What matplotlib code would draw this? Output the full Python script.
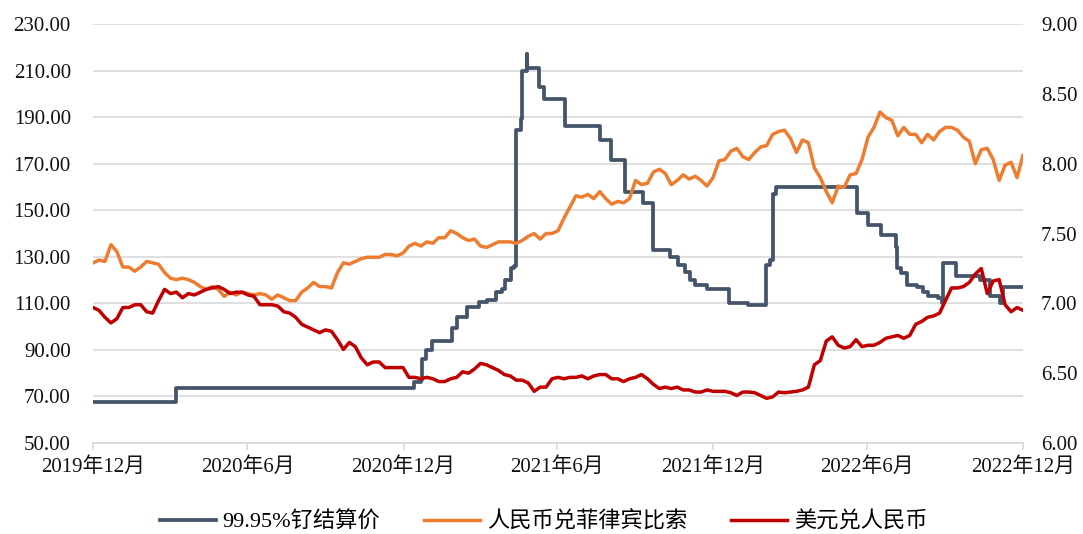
import matplotlib
matplotlib.use('Agg')
import matplotlib.pyplot as plt
import matplotlib.ticker as mticker
import pandas as pd

plt.rcParams['font.family'] = ['Liberation Serif', 'Noto Sans CJK SC']
plt.rcParams['axes.unicode_minus'] = False

# 99.95% ruthenium settlement price: dates where the level changes, and the new level
ru_dates = ['2019-12-31', '2020-04-07', '2021-01-12', '2021-01-21', '2021-01-22', '2021-01-27',
            '2021-02-02', '2021-02-26', '2021-03-04', '2021-03-16', '2021-03-30', '2021-04-08',
            '2021-04-19', '2021-04-26', '2021-04-30', '2021-05-07', '2021-05-10', '2021-05-12',
            '2021-05-13', '2021-05-18', '2021-05-19', '2021-05-20', '2021-05-25', '2021-05-26',
            '2021-06-09', '2021-06-15', '2021-07-09', '2021-08-19', '2021-09-02', '2021-09-18',
            '2021-10-09', '2021-10-21', '2021-11-10', '2021-11-19', '2021-11-28', '2021-12-03',
            '2021-12-10', '2021-12-23', '2022-01-19', '2022-02-10', '2022-03-03', '2022-03-08',
            '2022-03-11', '2022-03-15', '2022-06-18', '2022-07-01', '2022-07-17', '2022-08-03',
            '2022-08-04', '2022-08-09', '2022-08-16', '2022-08-28', '2022-09-04', '2022-09-10',
            '2022-09-22', '2022-09-27', '2022-09-28', '2022-10-13', '2022-11-10', '2022-11-22',
            '2022-12-04', '2022-12-07', '2022-12-31']
ru_price = [67.5, 73.5, 76, 77, 86, 90,
            94, 99.5, 104, 108.5, 110.5, 111.5,
            115, 116, 120, 125, 126, 134,
            184.5, 189, 193, 210, 217, 211,
            203, 198, 186, 180, 171.5, 158,
            153, 133, 130, 126.5, 123.5, 120,
            118, 116, 110, 109.5, 126.5, 128.5,
            157, 160, 149, 143.5, 139.5, 134,
            125, 123, 118, 117, 115, 113,
            112.3, 110, 127.3, 121.7, 120, 113,
            110, 117, 117]

# weekly FX readings, 2019-12-31 .. 2022-12-31
fx_start, fx_end, fx_n = '2019-12-31', '2022-12-31', 157

cny_php = [7.29, 7.31, 7.30, 7.42, 7.37, 7.26, 7.26, 7.23, 7.26, 7.30,
           7.29, 7.28, 7.22, 7.18, 7.17, 7.18, 7.17, 7.15, 7.12, 7.10,
           7.12, 7.10, 7.05, 7.08, 7.06, 7.08, 7.07, 7.06, 7.07, 7.06,
           7.03, 7.06, 7.04, 7.02, 7.02, 7.08, 7.11, 7.15, 7.12, 7.12,
           7.11, 7.22, 7.29, 7.28, 7.30, 7.32, 7.33, 7.33, 7.33, 7.35,
           7.35, 7.34, 7.36, 7.41, 7.43, 7.41, 7.44, 7.43, 7.47, 7.47,
           7.52, 7.50, 7.47, 7.45, 7.46, 7.41, 7.40, 7.42, 7.44, 7.44,
           7.44, 7.43, 7.45, 7.48, 7.50, 7.46, 7.50, 7.50, 7.52, 7.61,
           7.69, 7.77, 7.76, 7.78, 7.75, 7.80, 7.75, 7.71, 7.73, 7.72,
           7.75, 7.88, 7.85, 7.86, 7.94, 7.96, 7.93, 7.85, 7.88, 7.92,
           7.89, 7.91, 7.88, 7.84, 7.90, 8.02, 8.03, 8.09, 8.11, 8.05,
           8.03, 8.08, 8.12, 8.13, 8.21, 8.23, 8.24, 8.18, 8.08, 8.17,
           8.15, 7.97, 7.90, 7.80, 7.72, 7.84, 7.83, 7.92, 7.93, 8.03,
           8.19, 8.26, 8.37, 8.33, 8.31, 8.20, 8.26, 8.21, 8.21, 8.15,
           8.21, 8.17, 8.23, 8.26, 8.26, 8.24, 8.19, 8.16, 8.00, 8.10,
           8.11, 8.03, 7.88, 7.99, 8.01, 7.90, 8.06]

usd_cny = [6.97, 6.95, 6.90, 6.86, 6.89, 6.97, 6.97, 6.99, 6.99, 6.94,
           6.93, 7.02, 7.10, 7.07, 7.08, 7.04, 7.07, 7.06, 7.08, 7.10,
           7.11, 7.12, 7.10, 7.07, 7.08, 7.08, 7.06, 7.05, 6.99, 6.99,
           6.99, 6.98, 6.94, 6.93, 6.90, 6.85, 6.83, 6.81, 6.79, 6.81,
           6.80, 6.74, 6.67, 6.72, 6.69, 6.61, 6.56, 6.58, 6.58, 6.54,
           6.54, 6.54, 6.54, 6.47, 6.47, 6.46, 6.47, 6.46, 6.44, 6.44,
           6.46, 6.47, 6.51, 6.50, 6.53, 6.57, 6.56, 6.54, 6.52, 6.49,
           6.48, 6.45, 6.45, 6.43, 6.37, 6.40, 6.40, 6.46, 6.47, 6.46,
           6.47, 6.47, 6.48, 6.46, 6.48, 6.49, 6.49, 6.46, 6.46, 6.44,
           6.46, 6.47, 6.49, 6.46, 6.42, 6.39, 6.40, 6.39, 6.40, 6.38,
           6.38, 6.365, 6.365, 6.38, 6.37, 6.37, 6.37, 6.36, 6.34, 6.365,
           6.365, 6.36, 6.34, 6.32, 6.33, 6.365, 6.36, 6.365, 6.37, 6.38,
           6.40, 6.56, 6.59, 6.73, 6.76, 6.70, 6.68, 6.69, 6.74, 6.69,
           6.70, 6.70, 6.72, 6.75, 6.76, 6.77, 6.75, 6.77, 6.85, 6.87,
           6.90, 6.91, 6.93, 7.02, 7.11, 7.11, 7.12, 7.15, 7.21, 7.25,
           7.07, 7.16, 7.17, 6.99, 6.94, 6.97, 6.95]

tick_dates = ['2019-12-31', '2020-06-30', '2020-12-31', '2021-06-30',
              '2021-12-31', '2022-06-30', '2022-12-31']
tick_labels = ['2019年12月', '2020年6月', '2020年12月', '2021年6月',
               '2021年12月', '2022年6月', '2022年12月']

fx_dates = pd.date_range(fx_start, fx_end, periods=fx_n)

fig, ax = plt.subplots(figsize=(10.83, 5.34), dpi=100)
fig.subplots_adjust(left=0.0859, right=0.9446, top=0.955, bottom=0.1704)
ax2 = ax.twinx()

l1, = ax.plot(pd.to_datetime(ru_dates), ru_price, drawstyle='steps-post',
              color='#44546A', lw=2.7, label='99.95%钌结算价')
l2, = ax2.plot(fx_dates, cny_php, color='#ED7D31', lw=2.5, label='人民币兑菲律宾比索')
l3, = ax2.plot(fx_dates, usd_cny, color='#C00000', lw=2.5, label='美元兑人民币')

ax.set_ylim(50, 230)
ax.set_yticks(range(50, 231, 20))
ax.yaxis.set_major_formatter(mticker.FormatStrFormatter('%.2f'))
ax2.set_ylim(6, 9)
ax2.set_yticks([6, 6.5, 7, 7.5, 8, 8.5, 9])
ax2.yaxis.set_major_formatter(mticker.FormatStrFormatter('%.2f'))

ax.set_xlim(pd.Timestamp(tick_dates[0]), pd.Timestamp(tick_dates[-1]))
ax.set_xticks(pd.to_datetime(tick_dates))
ax.set_xticklabels(tick_labels)

ax.grid(axis='y', color='#D9D9D9', lw=1.2)
ax.set_axisbelow(True)
for a in (ax, ax2):
    for s in ('top', 'left', 'right'):
        a.spines[s].set_visible(False)
    a.spines['bottom'].set_color('#D9D9D9')
    a.spines['bottom'].set_linewidth(1.2)

ax.tick_params(axis='y', length=0, pad=16, labelsize=15, colors='#111111')
ax2.tick_params(axis='y', length=0, pad=13, labelsize=15, colors='#111111')
ax.tick_params(axis='x', length=5, width=1.2, color='#D9D9D9', pad=5,
               labelsize=15, labelcolor='#111111')

fig.legend(handles=[l1, l2, l3], loc='center', bbox_to_anchor=(0.502, 0.022),
           ncol=3, frameon=False, fontsize=16, handlelength=2.5,
           handletextpad=0.3, columnspacing=2.0)

fig.savefig('out.png', dpi=100)
